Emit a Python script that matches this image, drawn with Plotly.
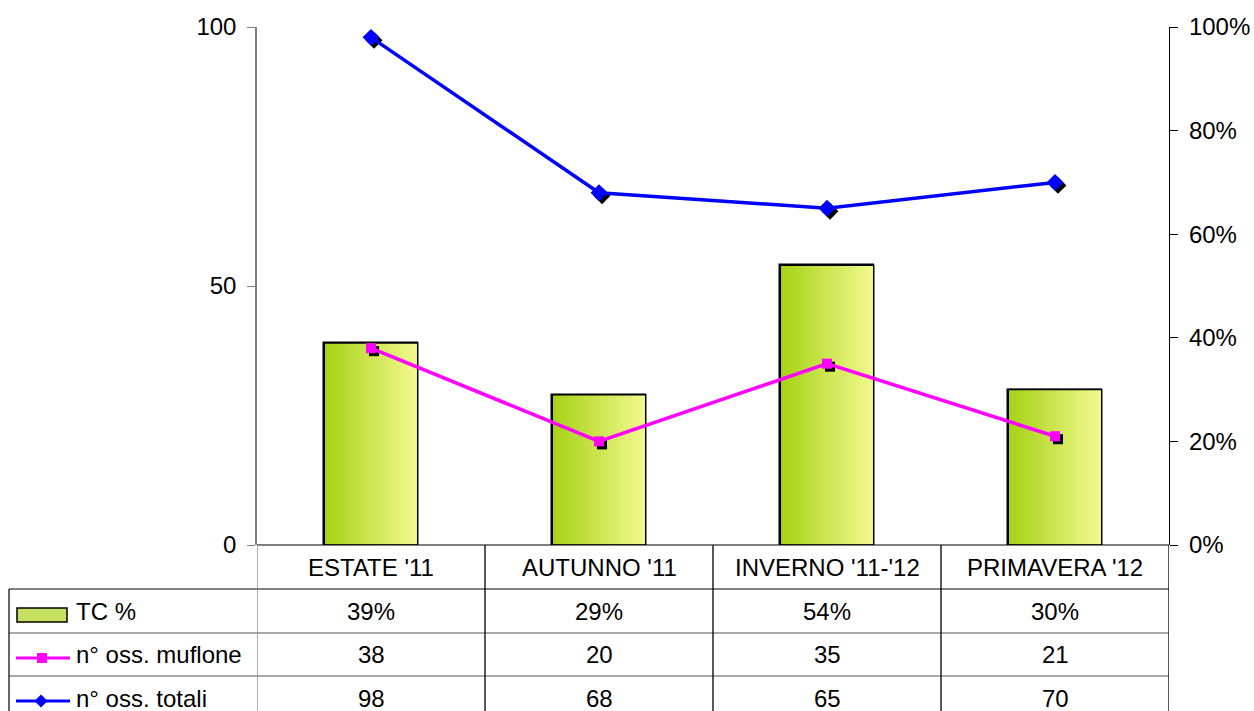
import plotly.graph_objects as go

# ---- data ----
categories = ["ESTATE '11", "AUTUNNO '11", "INVERNO '11-'12", "PRIMAVERA '12"]
tc_pct = [0.39, 0.29, 0.54, 0.30]
oss_muflone = [38, 20, 35, 21]
oss_totali = [98, 68, 65, 70]
row_labels = ["TC %", "n° oss. muflone", "n° oss. totali"]

W, H = 1254, 711
ML, MT = 257, 27
MR = W - 1169
MB = H - 545
PW, PH = W - ML - MR, H - MT - MB
FONT = "Liberation Sans, Arial, sans-serif"
FS = 24
BAR_W = 0.41
n = len(categories)


def px(xpage):
    return (xpage - ML) / PW


def py(ypage):
    return (H - MB - ypage) / PH


idx = list(range(n))
fig = go.Figure()

# bars (base axis = right percentage axis)
fig.add_trace(go.Bar(x=idx, y=tc_pct, width=BAR_W, name=row_labels[0],
                     marker=dict(color="#cde36a", line=dict(color="black", width=1.5)),
                     xaxis="x", yaxis="y", showlegend=False, hoverinfo="skip"))
for i, v in zip(idx, tc_pct):
    x0, x1 = i - BAR_W / 2, i + BAR_W / 2
    fig.add_trace(go.Scatter(x=[x0, x1, x1, x0, x0], y=[0, 0, v, v, 0], mode="lines",
                             fill="toself",
                             fillgradient=dict(type="horizontal",
                                               colorscale=[[0, "#a4d214"], [1, "#f4f98e"]]),
                             line=dict(color="black", width=1.5),
                             xaxis="x", yaxis="y", showlegend=False, hoverinfo="skip"))

# marker shadows (offset a few pixels down-right)
sdx = 3 * n / PW
sdy = 3 * 100 / PH
for vals, sym, sz in [(oss_muflone, "square", 10), (oss_totali, "diamond", 13)]:
    fig.add_trace(go.Scatter(x=[i + sdx for i in idx], y=[v - sdy for v in vals], mode="markers",
                             marker=dict(symbol=sym, size=sz, color="black"),
                             xaxis="x", yaxis="y2", showlegend=False, hoverinfo="skip"))

fig.add_trace(go.Scatter(x=idx, y=oss_muflone, mode="lines+markers", name=row_labels[1],
                         line=dict(color="#ff00ff", width=3.5),
                         marker=dict(symbol="square", size=10, color="#ff00ff"),
                         xaxis="x", yaxis="y2", showlegend=False))
fig.add_trace(go.Scatter(x=idx, y=oss_totali, mode="lines+markers", name=row_labels[2],
                         line=dict(color="#0000ff", width=3.5),
                         marker=dict(symbol="diamond", size=13, color="#0000ff"),
                         xaxis="x", yaxis="y2", showlegend=False))

shapes = []
annotations = []

row_y = [545, 589, 633, 676, 722]
left_x = 9
black = "black"
grey = "#555555"

shapes.append(dict(type="line", xref="paper", yref="paper", x0=0, x1=1,
                   y0=py(row_y[0]), y1=py(row_y[0]), line=dict(color=black, width=1.2)))
shapes.append(dict(type="line", xref="paper", yref="paper", x0=px(left_x), x1=1,
                   y0=py(row_y[1]), y1=py(row_y[1]), line=dict(color=black, width=1.2)))
for ry in row_y[2:4]:
    shapes.append(dict(type="line", xref="paper", yref="paper", x0=px(left_x), x1=1,
                       y0=py(ry), y1=py(ry), line=dict(color=grey, width=1.2)))
for k in range(n + 1):
    xv = k - 0.5
    col = "#808080" if k == 0 else black
    shapes.append(dict(type="line", xref="x", yref="paper", x0=xv, x1=xv,
                       y0=py(row_y[0]), y1=py(row_y[-1]), line=dict(color=col, width=1.3)))
shapes.append(dict(type="line", xref="paper", yref="paper", x0=px(left_x), x1=px(left_x),
                   y0=py(row_y[1]), y1=py(row_y[-1]), line=dict(color=black, width=1.2)))

tfont = dict(family=FONT, size=FS, color="black")
for i, c in enumerate(categories):
    annotations.append(dict(x=i, y=py((row_y[0] + row_y[1]) / 2), xref="x", yref="paper",
                            text=c, showarrow=False, xanchor="center", yanchor="middle", font=tfont))
rows_vals = [[f"{round(v * 100)}%" for v in tc_pct],
             [str(v) for v in oss_muflone],
             [str(v) for v in oss_totali]]
for r, vals in enumerate(rows_vals):
    yc = (row_y[r + 1] + row_y[r + 2]) / 2
    if r == 2:
        yc = 698
    for i, t in enumerate(vals):
        annotations.append(dict(x=i, y=py(yc), xref="x", yref="paper", text=t, showarrow=False,
                                xanchor="center", yanchor="middle", font=tfont))
    annotations.append(dict(x=px(74), y=py(yc), xref="paper", yref="paper", text=row_labels[r],
                            xanchor="left", yanchor="middle", showarrow=False, font=tfont))

# legend keys inside the table
shapes.append(dict(type="rect", xref="paper", yref="paper", x0=px(17), x1=px(67),
                   y0=py(622), y1=py(608), fillcolor="#c6e060", line=dict(color="black", width=1.5)))
yk1 = 658
shapes.append(dict(type="line", xref="paper", yref="paper", x0=px(16), x1=px(70),
                   y0=py(yk1), y1=py(yk1), line=dict(color="#ff00ff", width=3)))
shapes.append(dict(type="rect", xref="paper", yref="paper", x0=px(37), x1=px(47),
                   y0=py(yk1 + 5), y1=py(yk1 - 5), fillcolor="#ff00ff", line=dict(width=0)))
yk2 = 701
shapes.append(dict(type="line", xref="paper", yref="paper", x0=px(16), x1=px(70),
                   y0=py(yk2), y1=py(yk2), line=dict(color="#0000ff", width=3)))
d = 6.5
shapes.append(dict(type="path", xref="paper", yref="paper",
                   path=f"M {px(41)},{py(yk2 - d)} L {px(41 + d)},{py(yk2)} L {px(41)},{py(yk2 + d)} L {px(41 - d)},{py(yk2)} Z",
                   fillcolor="#0000ff", line=dict(width=0)))

fig.update_layout(
    width=W, height=H,
    margin=dict(l=ML, r=MR, t=MT, b=MB, pad=0, autoexpand=False),
    plot_bgcolor="white", paper_bgcolor="white",
    showlegend=False,
    font=dict(family=FONT, size=FS, color="black"),
    xaxis=dict(range=[-0.5, n - 0.5], showticklabels=False, showgrid=False, zeroline=False,
               showline=False, ticks=""),
    yaxis=dict(side="right", range=[0, 1], tickvals=[0, 0.2, 0.4, 0.6, 0.8, 1.0],
               tickformat=".0%", showgrid=False, zeroline=False, showline=True,
               linecolor="black", linewidth=1.2, ticks="outside", ticklen=8,
               tickcolor="black", ticklabelstandoff=6, tickfont=tfont),
    yaxis2=dict(overlaying="y", side="left", range=[0, 100], tickvals=[0, 50, 100],
                showgrid=False, zeroline=False, showline=True, linecolor="#808080",
                linewidth=1.5, ticks="outside", ticklen=8, tickcolor="#808080",
                ticklabelstandoff=6, tickfont=tfont),
    shapes=shapes, annotations=annotations,
    bargap=0,
)

fig.write_html("out.html", config={"displayModeBar": False},
               post_script="document.body.style.margin='0';document.body.style.overflow='hidden';")
